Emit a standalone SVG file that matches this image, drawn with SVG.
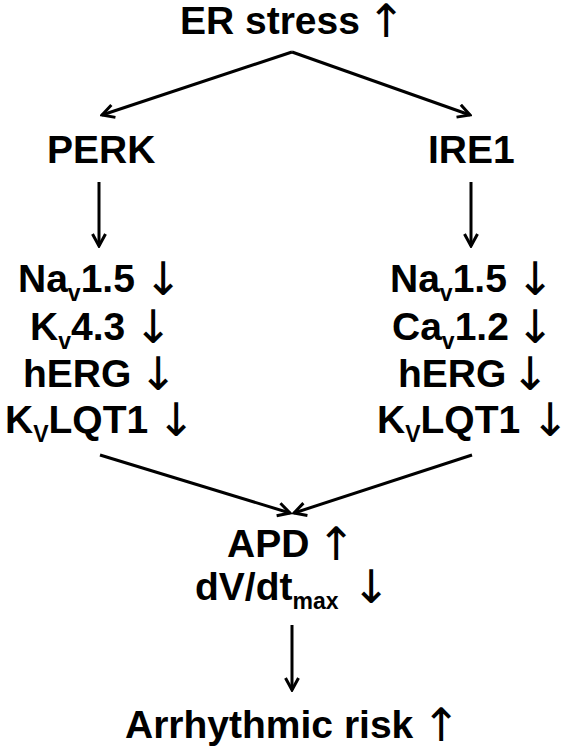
<svg xmlns="http://www.w3.org/2000/svg" width="574" height="750" viewBox="0 0 574 750">
<style>
.t{font-family:"Liberation Sans",Arial,sans-serif;font-weight:bold;font-size:39px;fill:#000}
.s{font-size:23px}
.a{font-family:"DejaVu Sans",sans-serif;font-weight:normal;font-size:46px;fill:#000}
.c{stroke:#000;stroke-width:3;fill:none}
</style>
<defs>
<marker id="ah" markerWidth="16" markerHeight="16" viewBox="-14 -8 16 16" refX="0" refY="0" orient="auto" markerUnits="userSpaceOnUse">
<path d="M-12,-6.5 L0,0 L-12,6.5" fill="none" stroke="#000" stroke-width="3"/>
</marker>
</defs>
<rect width="574" height="750" fill="#fff"/>
<g id="connectors" class="c">
<line x1="292" y1="52" x2="102" y2="115" marker-end="url(#ah)"/>
<line x1="292" y1="52" x2="470" y2="115" marker-end="url(#ah)"/>
<line x1="99" y1="182" x2="99" y2="246" marker-end="url(#ah)"/>
<line x1="471" y1="182" x2="471" y2="246" marker-end="url(#ah)"/>
<line x1="100" y1="455" x2="290" y2="513" marker-end="url(#ah)"/>
<line x1="472" y1="455" x2="294" y2="513" marker-end="url(#ah)"/>
<line x1="292" y1="625" x2="292" y2="690" marker-end="url(#ah)"/>
</g>
<g id="er-stress"><text class="t" x="180" y="34">ER stress</text><text class="a" x="367" y="37">↑</text></g>
<g id="perk"><text class="t" x="47" y="163">PERK</text></g>
<g id="ire1"><text class="t" x="428" y="163">IRE1</text></g>
<g id="perk-targets">
<text class="t" x="18" y="292">Na<tspan class="s" dy="9">v</tspan><tspan dy="-9">1.5</tspan></text><text class="a" x="144" y="295">↓</text>
<text class="t" x="30" y="340">K<tspan class="s" dy="9">v</tspan><tspan dy="-9">4.3</tspan></text><text class="a" x="134" y="343">↓</text>
<text class="t" x="23" y="387">hERG</text><text class="a" x="139" y="390">↓</text>
<text class="t" x="5" y="433">K<tspan class="s" dy="9">V</tspan><tspan dy="-9">LQT1</tspan></text><text class="a" x="157" y="436">↓</text>
</g>
<g id="ire1-targets">
<text class="t" x="390" y="292">Na<tspan class="s" dy="9">v</tspan><tspan dy="-9">1.5</tspan></text><text class="a" x="516" y="295">↓</text>
<text class="t" x="392" y="340">Ca<tspan class="s" dy="9">v</tspan><tspan dy="-9">1.2</tspan></text><text class="a" x="516" y="343">↓</text>
<text class="t" x="398" y="387">hERG</text><text class="a" x="511" y="390">↓</text>
<text class="t" x="377" y="433">K<tspan class="s" dy="9">V</tspan><tspan dy="-9">LQT1</tspan></text><text class="a" x="531" y="436">↓</text>
</g>
<g id="apd"><text class="t" x="227" y="557">APD</text><text class="a" x="317" y="560">↑</text></g>
<g id="dvdt"><text class="t" x="195" y="600">dV/dt<tspan class="s" dy="9">max</tspan></text><text class="a" x="352" y="603">↓</text></g>
<g id="arrhythmic-risk"><text class="t" x="125" y="738">Arrhythmic risk</text><text class="a" x="422" y="741">↑</text></g>
</svg>
